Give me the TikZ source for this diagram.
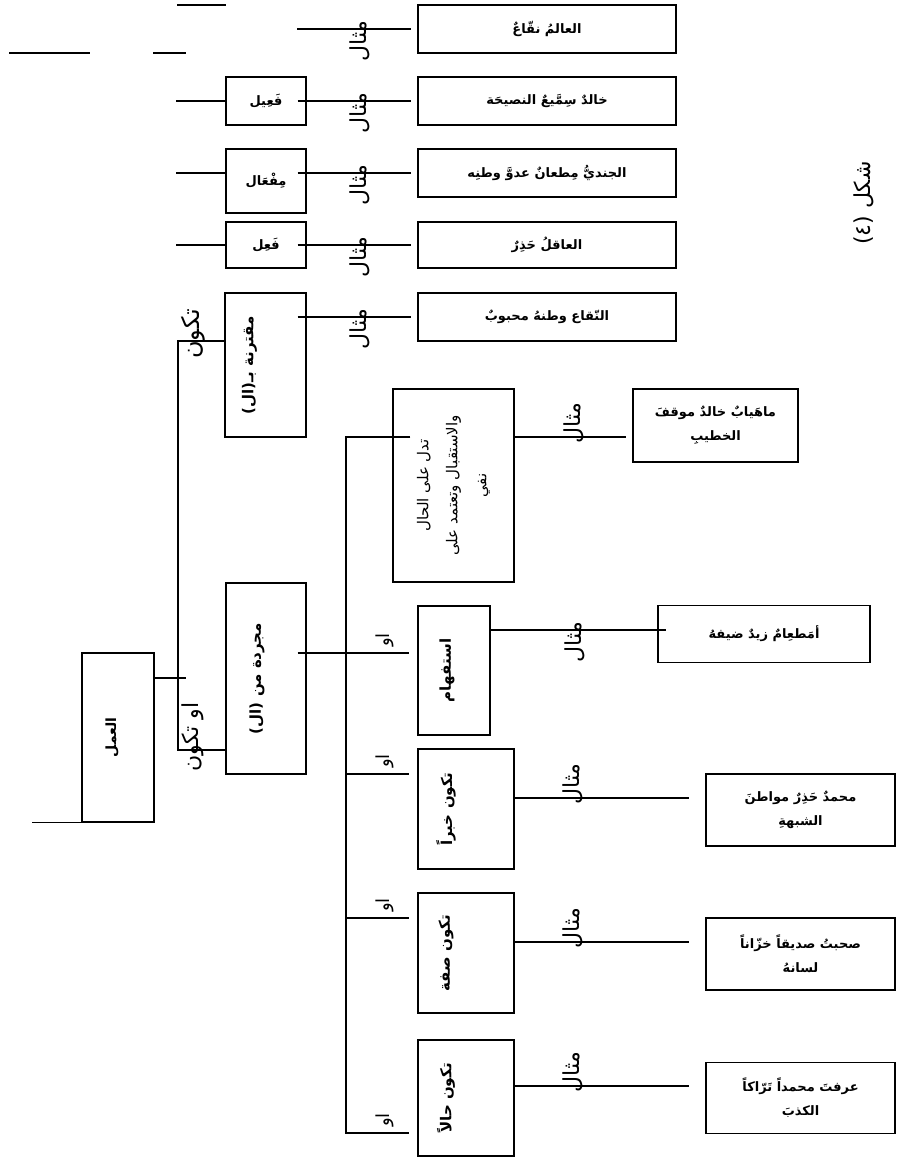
\documentclass[tikz,border=0pt]{standalone}
\usepackage{fontspec}
\newfontfamily\arabicfont[Script=Arabic]{DejaVu Sans}
\TeXXeTstate=1
\newcommand{\artx}[1]{\beginR #1\endR}
\usetikzlibrary{positioning}

\begin{document}
\begin{tikzpicture}[x=1pt, y=-1pt,
    link/.style={line width=1.3pt},
    exbox/.style={draw, line width=1.3pt, inner sep=2pt, align=center, font=\arabicfont\bfseries\fontsize{13}{24}\selectfont},
    wbox/.style={draw, line width=1.3pt, inner sep=0pt},
    vtxt/.style={rotate=90, inner sep=0pt, align=center, font=\arabicfont\bfseries\fontsize{15}{18}\selectfont},
    mithal/.style={rotate=90, inner sep=0pt, font=\arabicfont\fontsize{22}{24}\selectfont},
    aw/.style={rotate=90, inner sep=0pt, font=\arabicfont\fontsize{18}{20}\selectfont}
]
\useasboundingbox (0,0) rectangle (901,1158);

% stray lines at the top
\draw[link] (177,5) -- (226,5);
\draw[link] (9,53) -- (90,53);
\draw[link] (153,53) -- (186,53);

% upper examples
\node[exbox, minimum width=258, minimum height=48] (ex1) at (547,29) {\artx{العالمُ نقّاعٌ}};
\node[exbox, minimum width=258, minimum height=48] (ex2) at (547,101) {\artx{خالدٌ سِمَّيعٌ النصيحَة}};
\node[exbox, minimum width=258, minimum height=48] (ex3) at (547,173) {\artx{الجنديُّ مِطعانٌ عدوَّ وطنِه}};
\node[exbox, minimum width=258, minimum height=46] (ex4) at (547,245) {\artx{العاقلُ حَذِرٌ}};
\node[exbox, minimum width=258, minimum height=48] (ex5) at (547,317) {\artx{النّقاع وطنهُ محبوبٌ}};

% forms
\node[exbox, minimum width=80, minimum height=48] (feil) at (266,101) {\artx{فَعِيل}};
\node[exbox, minimum width=80, minimum height=64] (mifal) at (266,181) {\artx{مِفْعَال}};
\node[exbox, minimum width=80, minimum height=46] (fail) at (266,245) {\artx{فَعِل}};
\node[wbox, minimum width=81, minimum height=144] (muqt) at (265.5,365) {};
\node[vtxt] at ([xshift=-16pt]muqt.center) {\artx{مقترنة بـ\kern0pt(ال)}};

\coordinate (r1) at (297,29);
\draw[link] (r1) -- ([xshift=-6pt]ex1.west);
\foreach \f/\e in {feil/ex2, mifal/ex3, fail/ex4, muqt/ex5}
  \draw[link] ([xshift=-9pt]\f.east |- \e.west) -- ([xshift=-6pt]\e.west);
\foreach \f/\e in {feil/ex2, mifal/ex3, fail/ex4}
  \draw[link] (\f.west |- \e.west) -- ++(-49,0);
\foreach \y in {41,113,185,257,329}
  \node[mithal] at (360,\y) {\artx{مثال}};

% root and two branches
\node[wbox, minimum width=72, minimum height=169] (amal) at (118,737.5) {};
\node[vtxt, font=\arabicfont\bfseries\fontsize{14}{16}\selectfont] at ([xshift=-6pt]amal.center) {\artx{العمل}};
\node[wbox, minimum width=80, minimum height=191] (mujarrada) at (266,678.5) {};
\node[vtxt] at ([xshift=-9pt]mujarrada.center) {\artx{مجردة من (ال)}};

\coordinate (tTop) at (178,341);
\coordinate (tBot) at (178,750);
\coordinate (aTip) at (186,678);
\draw[link] (muqt.west |- tTop) -- (tTop) -- (tBot) -- (mujarrada.west |- tBot);
\draw[link] (amal.east |- aTip) -- (aTip);
\draw[link] (amal.south west) -- ++(-49,0);
\node[aw, font=\arabicfont\fontsize{24}{26}\selectfont] at (193,334) {\artx{تكون}};
\node[aw, font=\arabicfont\fontsize{22}{24}\selectfont] at (193,737) {\artx{او تكون}};

% cases of the bare form
\node[wbox, minimum width=121, minimum height=193] (dall) at (453.5,485.5) {};
\node[vtxt, font=\arabicfont\fontsize{15}{29}\selectfont] at (dall.center)
  {\artx{تدل على الحال}\\\artx{والاستقبال وتعتمد على}\\\artx{نفي}};
\node[wbox, minimum width=72, minimum height=129] (istifham) at (454,670.5) {};
\node[vtxt] at ([xshift=-7pt]istifham.center) {\artx{استفهام}};
\node[wbox, minimum width=96, minimum height=120] (khabar) at (466,809) {};
\node[vtxt] at ([xshift=-20pt]khabar.center) {\artx{تكون خبراً}};
\node[wbox, minimum width=96, minimum height=120] (sifa) at (466,953) {};
\node[vtxt] at ([xshift=-20pt]sifa.center) {\artx{تكون صفة}};
\node[wbox, minimum width=96, minimum height=116] (hal) at (466,1098) {};
\node[vtxt] at ([xshift=-20pt]hal.center) {\artx{تكون حالاً}};

\coordinate (bTop) at (346,437);
\coordinate (b1) at (346,653);
\coordinate (b2) at (346,774);
\coordinate (b3) at (346,918);
\coordinate (bBot) at (346,1133);
\draw[link] ([xshift=18pt]dall.west |- bTop) -- (bTop) -- (bBot) -- ([xshift=-8pt]hal.west |- bBot);
\draw[link] ([xshift=-9pt]mujarrada.east |- b1) -- ([xshift=-8pt]istifham.west |- b1);
\draw[link] (b2) -- ([xshift=-8pt]khabar.west |- b2);
\draw[link] (b3) -- ([xshift=-8pt]sifa.west |- b3);
\foreach \c in {b1,b2,b3,bBot}
  \node[aw] at ([xshift=39pt,yshift=13pt]\c) {\artx{او}};

% lower examples
\node[exbox, minimum width=165, minimum height=73] (ex6) at (715.5,425.5) {\artx{ماهَيابٌ خالدٌ موقفَ}\\\artx{الخطيبِ}};
\node[exbox, minimum width=212, minimum height=57] (ex7) at (764,634) {\artx{أمَطعِامٌ زيدٌ ضيفهُ}};
\node[exbox, minimum width=189, minimum height=72] (ex8) at (800.5,810) {\artx{محمدٌ حَذِرٌ مواطنَ}\\\artx{الشبهةِ}};
\node[exbox, minimum width=189, minimum height=72] (ex9) at (800.5,954) {\artx{صحبتُ صديقاً خزّاناً}\\\artx{لسانهُ}};
\node[exbox, minimum width=189, minimum height=71] (ex10) at (800.5,1098) {\artx{عرفتَ محمداً تَرّاكاً}\\\artx{الكذبَ}};

\draw[link] (dall.east |- bTop) -- ([xshift=-6pt]ex6.west |- bTop);
\draw[link] ([yshift=4pt]istifham.east |- ex7.west) -- ([xshift=9pt,yshift=4pt]ex7.west);
\foreach \f/\e in {khabar/ex8, sifa/ex9, hal/ex10}
  \draw[link] ([yshift=12pt]\f.east |- \e.west) -- ([xshift=-16pt,yshift=12pt]\e.west);
\foreach \p in {(574,423),(575,642),(573,784),(573,928),(573,1072)}
  \node[mithal] at \p {\artx{مثال}};

\node[aw, font=\arabicfont\fontsize{22}{24}\selectfont] (fig) at (864,203) {\artx{شكل (٤)}};
\end{tikzpicture}
\end{document}
